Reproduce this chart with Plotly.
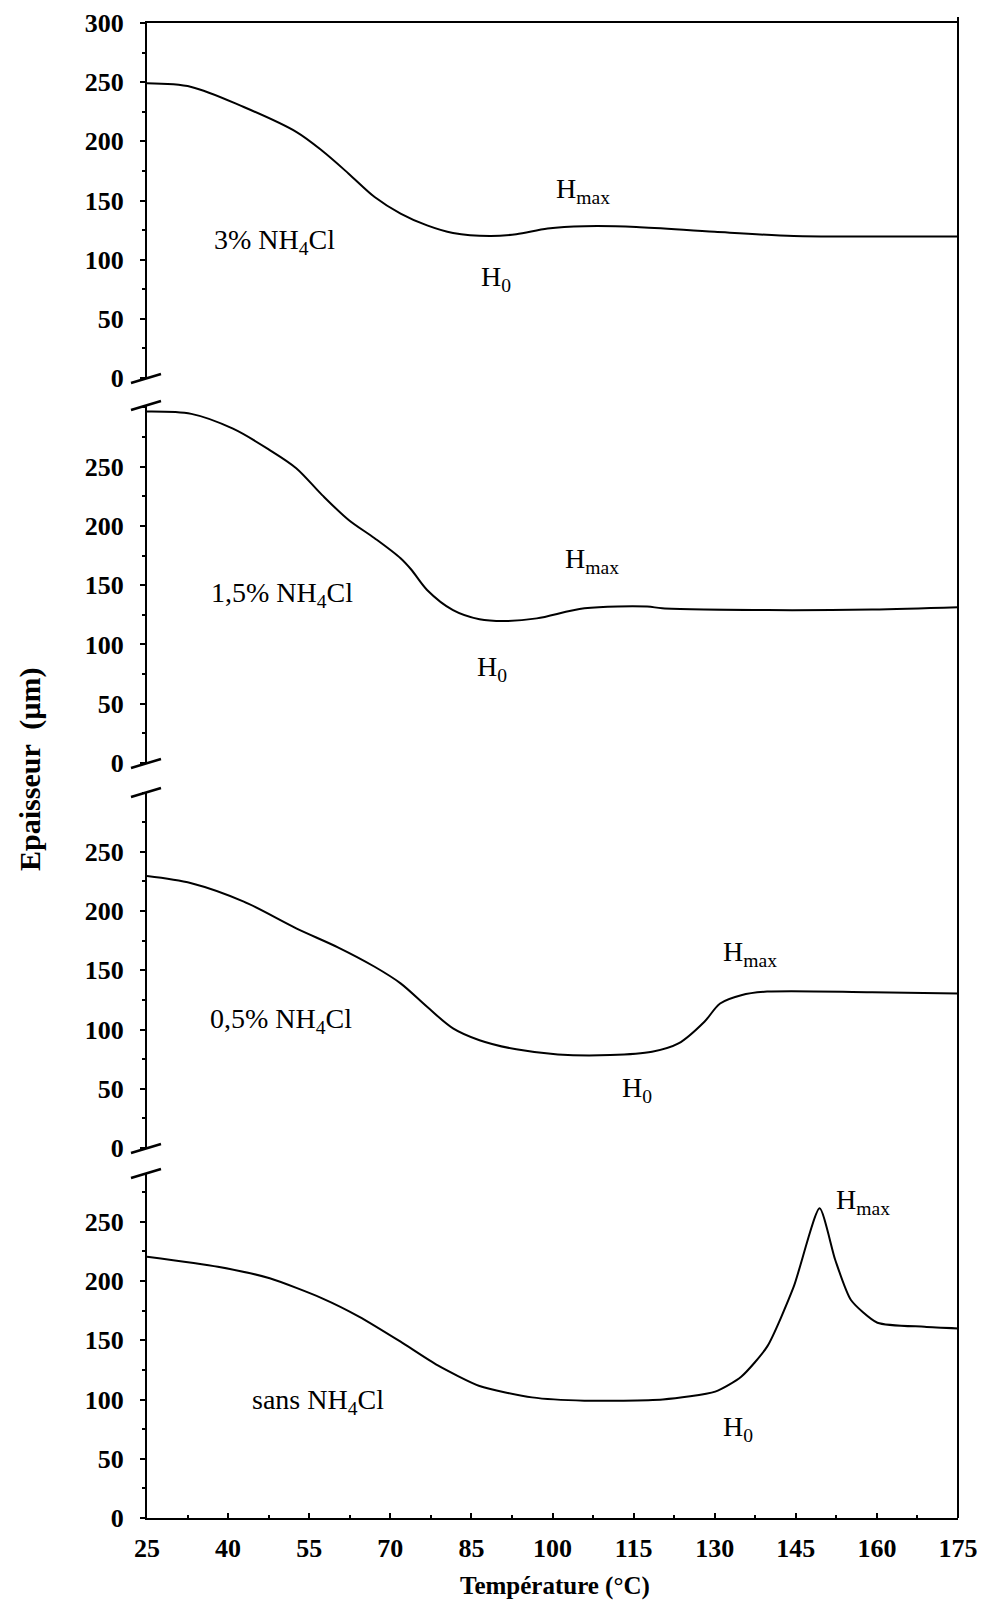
import plotly.graph_objects as go

# ---------------- data ----------------
temp_3pct = [25, 33.2, 42.9, 52.6, 57.4, 62.3, 67.1, 71.9, 76.8, 81.6, 88.4, 93.3, 99.1, 105.9, 115.5, 130, 144.6, 159.1, 175]
h_3pct = [249, 246, 229, 208, 192, 172.7, 153, 139, 129, 122.6, 120, 121.5, 126.3, 128.3, 127.7, 123.5, 120, 119.6, 119.5]

temp_15pct = [25, 33.2, 40.9, 47.7, 52.6, 57.4, 62.3, 67.1, 71.9, 73.9, 76.8, 81.6, 86.5, 91.3, 97.1, 105.9, 117.5, 120.3, 139.7, 159.1, 175]
h_15pct = [296.5, 294.5, 282, 264, 248.7, 226, 205, 189.6, 172.7, 163, 146, 129, 121.3, 119.8, 122, 130.5, 132, 130.5, 129, 129.5, 131.4]

temp_05pct = [25, 33.2, 42.9, 52.6, 60.3, 67.1, 71.9, 76.8, 81.6, 86.5, 93.3, 101, 110.7, 118.4, 123.3, 128.1, 131, 134.9, 139.7, 159.1, 175]
h_05pct = [229.5, 223.4, 207.9, 185.4, 169.4, 153, 139, 119.2, 101, 91, 83.3, 79, 78.5, 81.3, 88.3, 106.6, 122, 129, 132, 131.5, 130.5]

temp_sans = [25, 38.1, 47.7, 57.4, 64.2, 71.9, 78.7, 86.5, 96.2, 105.9, 120.4, 130.1, 134.9, 139.7, 144.6, 149.4, 152.3, 155.2, 160.1, 168.8, 175]
h_sans = [220.5, 212, 202.3, 185.4, 170, 148.8, 129, 111.4, 101.8, 99, 100, 106.6, 119.2, 144.6, 195, 261.3, 217.7, 184, 164.8, 161.4, 160]

x_ticks = [25, 40, 55, 70, 85, 100, 115, 130, 145, 160, 175]
y_ticks_top = [0, 50, 100, 150, 200, 250, 300]
y_ticks = [0, 50, 100, 150, 200, 250]

labels = ["3% NH<sub>4</sub>Cl", "1,5% NH<sub>4</sub>Cl", "0,5% NH<sub>4</sub>Cl", "sans NH<sub>4</sub>Cl"]

# ---------------- layout constants ----------------
W, H = 981, 1601
ML, MR, MT, MB = 147, 23, 23, 83
PW = W - ML - MR
PH = H - MT - MB
Y0 = H - MB  # pixel y of plot bottom


def px_x(px):
    return (px - ML) / PW


def px_y(py):
    return (Y0 - py) / PH


# panel pixel edges (bottom, top)
panels_px = [(378, 23), (763, 405), (1148, 792), (1518, 1174)]
ranges = [[0, 300], [0, 302], [0, 300.5], [0, 290.3]]

SERIF = "Liberation Serif, Times New Roman, serif"
fig = go.Figure()

series = [(temp_3pct, h_3pct), (temp_15pct, h_15pct), (temp_05pct, h_05pct), (temp_sans, h_sans)]
for i, (tx, hy) in enumerate(series):
    sfx = "" if i == 0 else str(i + 1)
    fig.add_trace(go.Scatter(
        x=tx, y=hy, mode="lines",
        line=dict(color="black", width=2, shape="spline", smoothing=0.9 if i < 3 else 0.6),
        xaxis="x" + sfx, yaxis="y" + sfx, showlegend=False, hoverinfo="x+y"))

layout = dict(
    width=W, height=H,
    margin=dict(l=ML, r=MR, t=MT, b=MB, autoexpand=False),
    paper_bgcolor="white", plot_bgcolor="white",
    font=dict(family=SERIF, color="black"),
    showlegend=False,
)

tickfont = dict(family=SERIF, size=26, color="black", weight="bold")

for i in range(4):
    sfx = "" if i == 0 else str(i + 1)
    bpx, tpx = panels_px[i]
    dom = [max(0, px_y(bpx)), min(1, px_y(tpx))]
    layout["yaxis" + sfx] = dict(
        domain=dom, range=ranges[i], anchor="x" + sfx, automargin=False,
        showline=True, linecolor="black", linewidth=2,
        showgrid=False, zeroline=False,
        tickmode="array", tickvals=y_ticks_top if i == 0 else y_ticks,
        ticks="outside", ticklen=5, tickwidth=2, tickcolor="black",
        minor=dict(tickmode="linear", tick0=0, dtick=25, ticks="outside", ticklen=3, tickwidth=1.5, tickcolor="black"),
        tickfont=tickfont, ticklabelstandoff=11,
        fixedrange=True,
    )
    xa = dict(range=[25, 175], domain=[0, 1], anchor="y" + sfx, automargin=False,
              showgrid=False, zeroline=False, fixedrange=True)
    if i == 0:
        xa.update(side="top", showline=True, linecolor="black", linewidth=2,
                  showticklabels=False, ticks="")
    elif i == 3:
        xa.update(side="bottom", showline=True, linecolor="black", linewidth=2,
                  tickmode="array", tickvals=x_ticks,
                  ticks="inside", ticklen=5, tickwidth=2, tickcolor="black",
                  minor=dict(tickmode="linear", tick0=25, dtick=7.5, ticks="inside", ticklen=3, tickwidth=1.5, tickcolor="black"),
                  tickfont=tickfont, ticklabelstandoff=6)
    else:
        xa.update(visible=False)
    if i > 0:
        xa["matches"] = "x"
    layout["xaxis" + sfx] = xa

fig.update_layout(**layout)

# right border (continuous) and axis break marks
shapes = [dict(type="line", xref="paper", yref="paper", x0=1, x1=1, y0=0, y1=px_y(17),
               line=dict(color="black", width=2))]
for edge in [378, 405, 763, 792, 1148, 1173]:
    shapes.append(dict(type="line", xref="paper", yref="paper",
                       x0=px_x(131), y0=px_y(edge + 5), x1=px_x(161), y1=px_y(edge - 4),
                       line=dict(color="black", width=2.5)))
fig.update_layout(shapes=shapes)

# annotations
ann_font = dict(family=SERIF, size=28, color="black")
ann = []
label_pos = [(48.5, 115), (49.9, 141.8), (49.7, 108), (56.7, 98)]
hmax_pos = [(105.6, 158.6), (107.3, 171), (136.6, 164), (157.5, 267)]
h0_pos = [(89.6, 84), (88.9, 80), (115.7, 49.5), (134.3, 75.7)]
for i in range(4):
    sfx = "" if i == 0 else str(i + 1)
    for (px, py), txt in [(label_pos[i], labels[i]), (hmax_pos[i], "H<sub>max</sub>"), (h0_pos[i], "H<sub>0</sub>")]:
        ann.append(dict(x=px, y=py, xref="x" + sfx, yref="y" + sfx, text=txt,
                        showarrow=False, font=ann_font, xanchor="center", yanchor="middle"))

ann.append(dict(x=px_x(30), y=px_y(770), xref="paper", yref="paper",
                text="Epaisseur  (µm)", textangle=-90, showarrow=False,
                font=dict(family=SERIF, size=30, color="black", weight="bold"),
                xanchor="center", yanchor="middle"))
ann.append(dict(x=px_x(555), y=px_y(1586), xref="paper", yref="paper",
                text="Température (°C)", showarrow=False,
                font=dict(family=SERIF, size=25, color="black", weight="bold"),
                xanchor="center", yanchor="middle"))
fig.update_layout(annotations=ann)

fig.write_html("out.html", config={"displayModeBar": False},
               post_script="document.body.style.margin='0';document.body.style.overflow='hidden';")
